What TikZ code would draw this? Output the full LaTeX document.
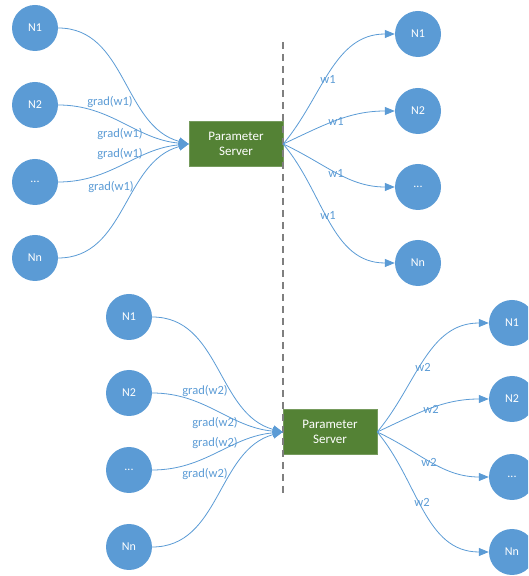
\documentclass[tikz,border=0pt]{standalone}
\usepackage{fontspec}
\setmainfont{Carlito}
\usetikzlibrary{arrows.meta}
\definecolor{nodeblue}{HTML}{5B9BD5}
\definecolor{psgreen}{HTML}{548235}
\definecolor{lineblue}{HTML}{5B9BD5}
\definecolor{dashgray}{HTML}{7F7F7F}
\begin{document}
\begin{tikzpicture}[x=1pt,y=1pt,
  worker/.style={circle, fill=nodeblue, minimum size=46pt, inner sep=0pt, text=white, font=\fontsize{12}{14}\selectfont},
  server/.style={rectangle, fill=psgreen, draw=psgreen!80!white, minimum width=94pt, minimum height=45pt, text=white, align=center, font=\fontsize{13}{15}\selectfont},
  link/.style={draw=lineblue, line width=0.8pt, -{Triangle[length=10pt,width=8pt]}},
  lbl/.style={text=lineblue, font=\fontsize{12.5}{14}\selectfont, inner sep=0pt},
  divider/.style={draw=dashgray, line width=1.5pt, dash pattern=on 7pt off 5pt}]
\clip (0,0) rectangle (528,576);
% top group
\node[worker] (a1) at (35,548) {N1};
\node[worker] (a2) at (35,471) {N2};
\node[worker] (a3) at (35,394) {...};
\node[worker] (a4) at (35,318) {Nn};
\node[server] (ps1) at (236,432) {Parameter\\Server};
\node[worker] (b1) at (418,542) {N1};
\node[worker] (b2) at (418,465) {N2};
\node[worker] (b3) at (418,389) {...};
\node[worker] (b4) at (418,313) {Nn};
% bottom group
\node[worker] (c1) at (129,259) {N1};
\node[worker] (c2) at (129,183) {N2};
\node[worker] (c3) at (129,106) {...};
\node[worker] (c4) at (129,29) {Nn};
\node[server] (ps2) at (330,144) {Parameter\\Server};
\node[worker] (d1) at (512,253) {N1};
\node[worker] (d2) at (512,177) {N2};
\node[worker] (d3) at (512,99) {...};
\node[worker] (d4) at (512,24) {Nn};
% divider
\coordinate (dtop) at (283,534);
\coordinate (dbot) at (283,83);
\draw[divider] (dtop) -- (dbot);
% top connectors
\draw[link] (a1.east) to[out=0,in=165] (ps1.west);
\draw[link] (a2.east) to[out=0,in=175] (ps1.west);
\draw[link] (a3.east) to[out=0,in=185] (ps1.west);
\draw[link] (a4.east) to[out=0,in=195] (ps1.west);
\draw[link] (ps1.east) to[out=50,in=180] (b1.west);
\draw[link] (ps1.east) to[out=25,in=180] (b2.west);
\draw[link] (ps1.east) to[out=-25,in=180] (b3.west);
\draw[link] (ps1.east) to[out=-50,in=180] (b4.west);
% bottom connectors
\draw[link] (c1.east) to[out=0,in=165] (ps2.west);
\draw[link] (c2.east) to[out=0,in=175] (ps2.west);
\draw[link] (c3.east) to[out=0,in=185] (ps2.west);
\draw[link] (c4.east) to[out=0,in=195] (ps2.west);
\draw[link] (ps2.east) to[out=50,in=180] (d1.west);
\draw[link] (ps2.east) to[out=25,in=180] (d2.west);
\draw[link] (ps2.east) to[out=-25,in=180] (d3.west);
\draw[link] (ps2.east) to[out=-50,in=180] (d4.west);
% labels
\node[lbl] (l1) at (110,474) {grad(w1)};
\node[lbl] (l2) at (120,442) {grad(w1)};
\node[lbl] (l3) at (120,422) {grad(w1)};
\node[lbl] (l4) at (111,389) {grad(w1)};
\node[lbl] (m1) at (328,497) {w1};
\node[lbl] (m2) at (336,455) {w1};
\node[lbl] (m3) at (336,403) {w1};
\node[lbl] (m4) at (328,361) {w1};
\node[lbl] (p1) at (205,185) {grad(w2)};
\node[lbl] (p2) at (215,153) {grad(w2)};
\node[lbl] (p3) at (215,133) {grad(w2)};
\node[lbl] (p4) at (205,102) {grad(w2)};
\node[lbl] (q1) at (423,209) {w2};
\node[lbl] (q2) at (431,167) {w2};
\node[lbl] (q3) at (429,114) {w2};
\node[lbl] (q4) at (422,74) {w2};
\end{tikzpicture}
\end{document}
